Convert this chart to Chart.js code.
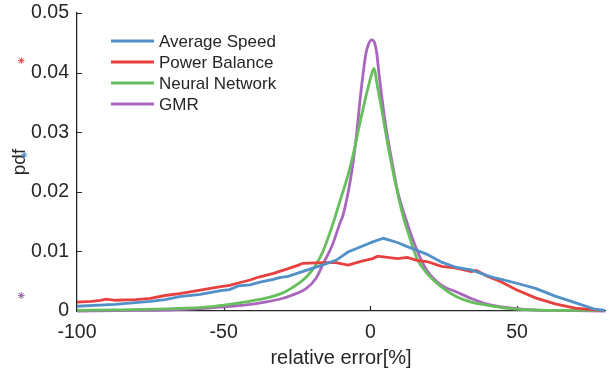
<!DOCTYPE html>
<html>
<head>
<meta charset="utf-8">
<script src="https://cdn.jsdelivr.net/npm/chart.js@4.4.1/dist/chart.umd.min.js"></script>
<style>
  html, body { margin: 0; padding: 0; background: #fff; }
  #wrap { width: 610px; height: 374px; }
</style>
</head>
<body>
<div id="wrap"><canvas id="c" width="610" height="374"></canvas></div>
<script>
// ---- data ----
const seriesLabels = ['Average Speed', 'Power Balance', 'Neural Network', 'GMR'];
const seriesColors = ['#5290c8', '#e8403f', '#66bf5c', '#a966bd'];

const avgSpeedX = [-100,-87,-80,-75,-70,-65,-58,-51,-48,-45,-41,-38,-33,-31,-28,-24.5,-17.7,-11.7,-7.6,-2.6,0.8,4.5,9.2,12.6,15.9,19.3,24.3,29.4,34.4,39.5,42.9,49.6,56.3,63,69.8,76.5,80];
const avgSpeedY = [0.0008,0.0011,0.0014,0.0016,0.0019,0.0024,0.0028,0.0034,0.0036,0.0042,0.0044,0.0048,0.0053,0.0056,0.0058,0.0064,0.0075,0.0085,0.0099,0.0109,0.0116,0.0122,0.0115,0.0108,0.0102,0.0095,0.0082,0.0073,0.0069,0.0060,0.0055,0.0047,0.0038,0.0025,0.0014,0.0003,0.0001];

const powerBalX = [-100,-95,-92,-90,-87,-80,-75,-70,-65,-58,-51,-48,-45,-41,-38,-33,-28,-24.5,-23,-16,-11.7,-7.6,-2.6,0.8,2.5,9.2,12.6,15.9,19.3,24.3,29.4,34.4,36.2,39.5,44.5,49.6,56.3,63,69.8,76.5,80];
const powerBalY = [0.0015,0.0016,0.0018,0.0020,0.0018,0.0019,0.0021,0.0026,0.0029,0.0035,0.0041,0.0043,0.0047,0.0052,0.0057,0.0063,0.0071,0.0077,0.0080,0.0081,0.0081,0.0077,0.0084,0.0088,0.0092,0.0088,0.0090,0.0085,0.0083,0.0075,0.0072,0.0066,0.0068,0.0059,0.0049,0.0036,0.0022,0.0012,0.0005,0.0002,0.0001];

const neuralX = [-100,-87,-67,-55,-50,-43,-36,-30,-27,-21.8,-18.5,-16,-12.7,-10,-7.6,-5.5,-3.7,-1.5,0.3,1.3,2.3,3.6,6.4,9.7,11.4,12.6,14.3,15.9,19.3,24.3,29.4,34.4,39.5,46,55,65,80];
const neuralY = [0.0001,0.0002,0.0004,0.0007,0.0010,0.0015,0.0021,0.0030,0.0038,0.0057,0.0078,0.0102,0.0147,0.0190,0.0228,0.0270,0.0312,0.0360,0.0395,0.0407,0.0380,0.0346,0.0267,0.0189,0.0155,0.0136,0.0110,0.0088,0.0063,0.0040,0.0024,0.0015,0.0010,0.0005,0.0002,0.0001,0.0001];

const gmrX = [-100,-80,-67,-55,-50,-43,-36,-30,-27,-21.8,-18.5,-16,-13,-10.4,-9.3,-7,-6,-4.9,-3.2,-1.5,-0.6,0.5,1.3,2.2,3.0,5.2,8.0,9.2,12.6,15.9,19.3,24.3,29.4,34.4,39.5,46,55,65,80];
const gmrY = [0,0.0001,0.0002,0.0005,0.0007,0.0010,0.0015,0.0021,0.0026,0.0038,0.0055,0.0080,0.0110,0.0147,0.0161,0.0214,0.0245,0.0287,0.0368,0.0432,0.0448,0.0455,0.0452,0.0432,0.0396,0.0312,0.0234,0.0203,0.0147,0.0102,0.0068,0.0043,0.0032,0.0021,0.0012,0.0006,0.0002,0.0001,0];

// stray asterisk markers left of the axis (red, blue, green, purple)
const markerX = [-119, -118, -119, -119];
const markerY = [0.0420, 0.0262, 0.0026, 0.0026];

const xTicks = [-100, -50, 0, 50];
const yTicks = [0, 0.01, 0.02, 0.03, 0.04, 0.05];
const xMin = -100, xMax = 80, yMin = 0, yMax = 0.05;

function pts(xs, ys) { return xs.map((x, i) => ({ x: x, y: ys[i] })); }

const curves = [[avgSpeedX, avgSpeedY], [powerBalX, powerBalY], [neuralX, neuralY], [gmrX, gmrY]];
const datasets = curves.map((c, i) => ({
  type: 'line',
  label: seriesLabels[i],
  data: pts(c[0], c[1]),
  borderColor: seriesColors[i],
  backgroundColor: seriesColors[i],
  borderWidth: 2.8,
  pointRadius: 0,
  tension: i >= 2 ? 0.4 : 0,
  cubicInterpolationMode: i >= 2 ? 'monotone' : 'default',
  fill: false,
  clip: 3
}));
const markerColors = [seriesColors[1], seriesColors[0], seriesColors[2], seriesColors[3]];
markerX.forEach((x, i) => {
  datasets.push({
    type: 'bubble',
    label: '_marker' + i,
    data: [{ x: x, y: markerY[i], r: 3.2 }],
    pointStyle: 'star',
    borderWidth: 1,
    borderColor: markerColors[i],
    backgroundColor: markerColors[i],
    clip: false
  });
});

const AXIS = '#262626';
const FONT = "'Liberation Sans', Arial, Helvetica, sans-serif";

const inwardTicks = {
  id: 'inwardTicks',
  beforeDatasetsDraw(chart) {
    const ctx = chart.ctx, xs = chart.scales.x, ys = chart.scales.y;
    const ca = chart.chartArea;
    ctx.save();
    ctx.strokeStyle = AXIS;
    ctx.lineWidth = 1.2;
    ctx.beginPath();
    xTicks.forEach(v => {
      if (v === xMin) return;
      const px = Math.round(xs.getPixelForValue(v)) + 0.5;
      ctx.moveTo(px, ca.bottom); ctx.lineTo(px, ca.bottom - 5);
    });
    yTicks.forEach(v => {
      if (v === yMin) return;
      const py = Math.round(ys.getPixelForValue(v)) + 0.5;
      ctx.moveTo(ca.left, py); ctx.lineTo(ca.left + 5, py);
    });
    ctx.stroke();
    ctx.restore();
  }
};

// markers lie outside the plot area; draw their elements with the full canvas as area
const outsideMarkers = {
  id: 'outsideMarkers',
  afterDatasetsDraw(chart) {
    const full = { left: 0, top: 0, right: chart.width, bottom: chart.height };
    chart.data.datasets.forEach((ds, i) => {
      if (!ds.label.startsWith('_marker')) return;
      chart.getDatasetMeta(i).data.forEach(el => el.draw(chart.ctx, full));
    });
  }
};

const insideLegend = {
  id: 'insideLegend',
  afterDatasetsDraw(chart) {
    const ctx = chart.ctx;
    ctx.save();
    ctx.font = '17px ' + FONT;
    ctx.textBaseline = 'middle';
    ctx.textAlign = 'left';
    const x0 = 111, len = 43, gap = 5, y0 = 41, step = 21;
    chart.data.datasets.forEach((ds, i) => {
      if (ds.label.startsWith('_')) return;
      const y = y0 + i * step;
      ctx.strokeStyle = ds.borderColor;
      ctx.lineWidth = 3;
      ctx.beginPath();
      ctx.moveTo(x0, y); ctx.lineTo(x0 + len, y);
      ctx.stroke();
      ctx.fillStyle = AXIS;
      ctx.fillText(ds.label, x0 + len + gap, y + 1);
    });
    ctx.restore();
  }
};

new Chart(document.getElementById('c'), {
  type: 'line',
  data: { datasets: datasets },
  options: {
    responsive: false,
    animation: false,
    devicePixelRatio: 1,
    layout: { padding: { top: 13, right: 0, bottom: 0, left: 0 } },
    plugins: { legend: { display: false }, tooltip: { enabled: false } },
    scales: {
      x: {
        type: 'linear',
        min: xMin, max: xMax,
        afterBuildTicks(s) { s.ticks = xTicks.map(v => ({ value: v })); },
        afterFit(s) { s.height = 63; },
        grid: { display: false, drawTicks: false },
        border: { display: true, color: AXIS, width: 1.3 },
        ticks: { color: AXIS, font: { family: FONT, size: 19.5 }, padding: 10, maxRotation: 0, autoSkip: false,
                 callback: v => String(v) },
        title: { display: true, text: 'relative error[%]', color: AXIS, font: { family: FONT, size: 20 }, padding: { top: 0, bottom: 4 } }
      },
      y: {
        type: 'linear',
        min: yMin, max: yMax,
        afterBuildTicks(s) { s.ticks = yTicks.map(v => ({ value: v })); },
        afterFit(s) { s.width = 77; s.paddingTop = 0; s.paddingBottom = 0; },
        grid: { display: false, drawTicks: false },
        border: { display: true, color: AXIS, width: 1.3 },
        ticks: { color: AXIS, font: { family: FONT, size: 19.5 }, padding: 8, autoSkip: false,
                 callback: v => String(v) },
        title: { display: true, text: 'pdf', color: AXIS, font: { family: FONT, size: 19 }, padding: { top: 8, bottom: 0 } }
      }
    }
  },
  plugins: [inwardTicks, outsideMarkers, insideLegend]
});
</script>
</body>
</html>
